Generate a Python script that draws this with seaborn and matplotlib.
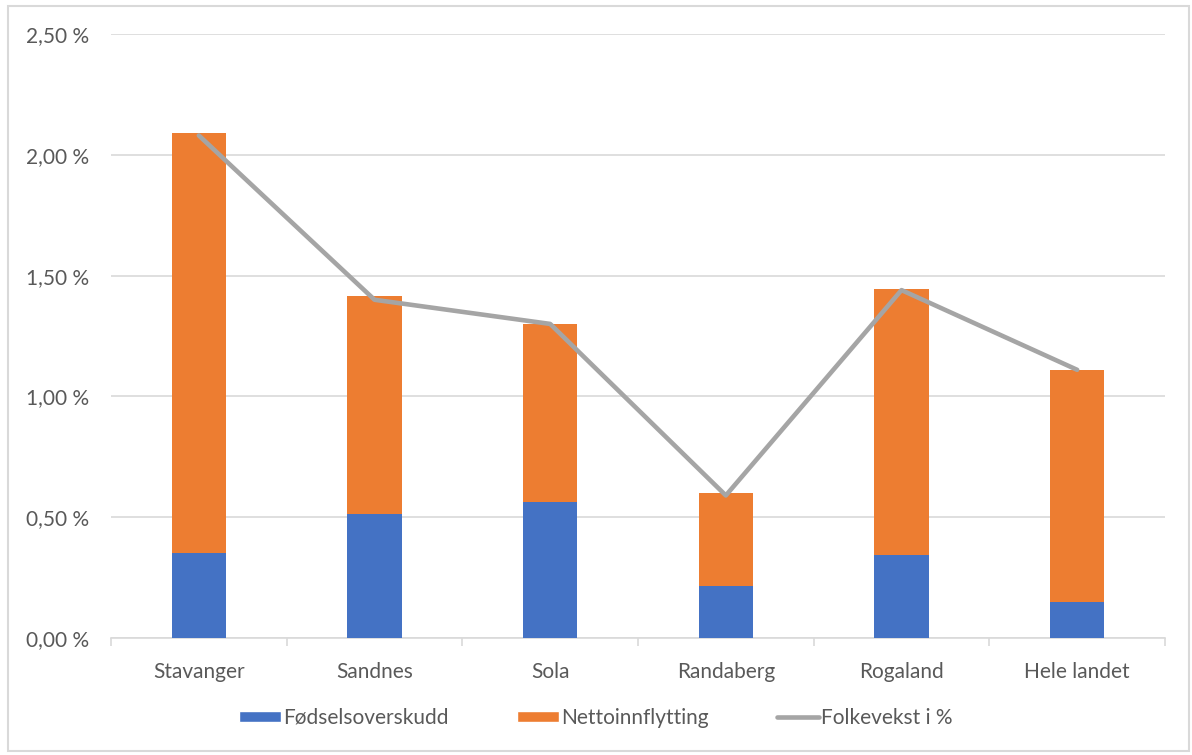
import numpy as np
import pandas as pd
import matplotlib.pyplot as plt
import seaborn as sns
from matplotlib.patches import Patch, Rectangle
from matplotlib.lines import Line2D
from matplotlib.ticker import FixedLocator, FuncFormatter

# data (percent)
categories = ["Stavanger", "Sandnes", "Sola", "Randaberg", "Rogaland", "Hele landet"]
fodselsoverskudd = [0.352, 0.513, 0.563, 0.215, 0.343, 0.149]
nettoinnflytting = [1.738, 0.903, 0.737, 0.385, 1.102, 0.960]
folkevekst = [2.08, 1.40, 1.30, 0.59, 1.44, 1.11]

df = pd.DataFrame({
    "kommune": categories,
    "fodsel": fodselsoverskudd,
    "netto": nettoinnflytting,
    "vekst": folkevekst,
})
df["total"] = df["fodsel"] + df["netto"]

BLUE = "#4472c4"
ORANGE = "#ed7d31"
GREY = "#a5a5a5"
GRID = "#d9d9d9"
TXT = "#595959"
FS = 15

sns.set_theme(style="white")
plt.rcParams["font.family"] = ["Lato", "DejaVu Sans"]

fig = plt.figure(figsize=(11.92, 7.55), dpi=100)
ax = fig.add_axes([111 / 1192, 117 / 755, 1054 / 1192, 604 / 755])

# stacked bars: total in orange, birth surplus drawn over it in blue
sns.barplot(data=df, x="kommune", y="total", color=ORANGE, width=0.31,
            saturation=1, linewidth=0, ax=ax, zorder=2)
sns.barplot(data=df, x="kommune", y="fodsel", color=BLUE, width=0.31,
            saturation=1, linewidth=0, ax=ax, zorder=3)
sns.lineplot(x=np.arange(len(categories)), y=df["vekst"], color=GREY,
             linewidth=3.3, ax=ax, zorder=4)

ax.set_xlim(-0.5, len(categories) - 0.5)
ax.set_ylim(0, 2.5)
ax.yaxis.set_major_locator(FixedLocator(np.arange(0, 2.51, 0.5)))
ax.yaxis.set_major_formatter(FuncFormatter(lambda v, p: f"{v:.2f} %".replace(".", ",")))
ax.grid(axis="y", color=GRID, linewidth=1.2, zorder=0)
ax.set_axisbelow(True)
ax.set_xlabel("")
ax.set_ylabel("")

for s in ["left", "right", "top"]:
    ax.spines[s].set_visible(False)
ax.spines["bottom"].set_color(GRID)
ax.spines["bottom"].set_linewidth(1.2)

ax.tick_params(axis="x", which="major", length=0, labelsize=FS, labelcolor=TXT, pad=17)
ax.tick_params(axis="y", length=0, labelsize=FS, labelcolor=TXT, pad=16)
ax.xaxis.set_minor_locator(FixedLocator(np.arange(-0.5, len(categories), 1.0)))
ax.tick_params(axis="x", which="minor", length=6, width=1.2, color=GRID, bottom=True)

handles = [
    Patch(facecolor=BLUE, label="Fødselsoverskudd"),
    Patch(facecolor=ORANGE, label="Nettoinnflytting"),
    Line2D([], [], color=GREY, linewidth=3.3, label="Folkevekst i %"),
]
fig.legend(handles=handles, loc="center", bbox_to_anchor=(0.5, 37 / 755), ncol=3,
           frameon=False, fontsize=FS, labelcolor=TXT, handlelength=2.0,
           handleheight=0.45, handletextpad=0.1, columnspacing=3.3)

fig.patches.append(Rectangle((8 / 1192, 4 / 755), 1181 / 1192, 745 / 755,
                             transform=fig.transFigure, fill=False,
                             edgecolor=GRID, linewidth=1.5))

fig.savefig("out.png", dpi=100)
